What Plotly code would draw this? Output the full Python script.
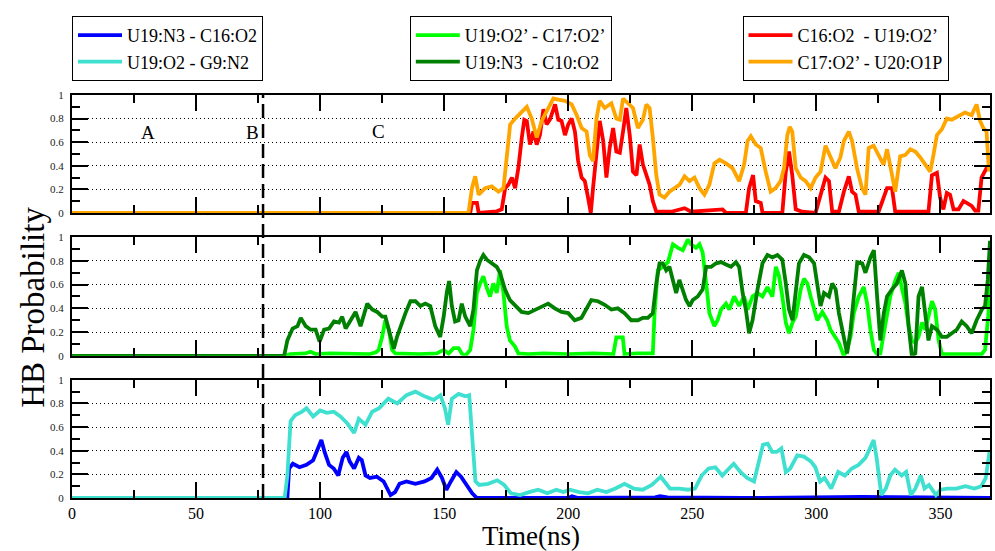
import plotly.graph_objects as go
from plotly.subplots import make_subplots

# ---------------- data ----------------
# top panel
t_orange = [0, 159.8, 161.2, 162.5, 163.9, 166.5, 169.2, 171.9, 173.9, 175.2, 176.6, 178.6, 181.3, 183.3,
            185.3, 187.3, 189.3, 192.0, 194.0, 196.0, 198.7, 201.4, 203.4, 205.4, 207.4, 208.7, 210.0, 211.4,
            212.7, 214.7, 217.4, 219.4, 220.8, 222.1, 224.1, 226.1, 228.1, 230.1, 231.5, 232.8, 234.1, 235.5,
            236.8, 238.8, 240.8, 242.8, 244.9, 246.9, 248.9, 250.9, 252.9, 254.9, 256.9, 258.9, 261.0,
            263.6, 266.2, 268.9, 270.9, 272.3, 273.6, 275.6, 277.6, 279.6, 281.6, 283.6, 285.6, 287.0, 288.3,
            289.3, 290.3, 291.7, 293.7, 295.7, 297.7, 299.7, 301.7, 303.7, 305.7, 307.7, 309.7, 311.1, 313.1,
            314.4, 316.4, 318.4, 319.8, 321.1, 323.1, 325.1, 327.1, 328.5, 329.8, 331.8, 333.8, 335.8, 337.9,
            339.9, 341.9, 343.9, 345.9, 347.2, 348.6, 350.6, 352.6, 354.6, 357.3, 359.9, 362.6, 364.6, 366.0,
            367.3, 368.6, 369.6]
p_orange = [0, 0, 0.21, 0.31, 0.155, 0.21, 0.225, 0.18, 0.21, 0.44, 0.75, 0.8, 0.86, 0.9,
            0.8, 0.64, 0.78, 0.89, 0.97, 0.96, 0.95, 0.92, 0.83, 0.72, 0.69, 0.49, 0.44, 0.8,
            0.95, 0.89, 0.93, 0.8, 0.79, 0.97, 0.93, 0.89, 0.72, 0.79, 0.92, 0.89, 0.64, 0.32,
            0.155, 0.13, 0.18, 0.21, 0.24, 0.31, 0.27, 0.3, 0.21, 0.155, 0.24, 0.42, 0.45,
            0.42, 0.38, 0.27, 0.41, 0.61, 0.65, 0.58, 0.55, 0.35, 0.18, 0.21, 0.27, 0.38, 0.66,
            0.73, 0.69, 0.38, 0.3, 0.27, 0.21, 0.3, 0.35, 0.57, 0.47, 0.38, 0.47, 0.61, 0.69,
            0.61, 0.38, 0.21, 0.155, 0.55, 0.57, 0.49, 0.41, 0.54, 0.38, 0.18, 0.48, 0.49, 0.54,
            0.52, 0.47, 0.41, 0.35, 0.49, 0.66, 0.71, 0.8, 0.79, 0.82, 0.85, 0.83, 0.92, 0.78,
            0.72, 0.69, 0.35]

t_red = [0, 160.5, 161.2, 163.2, 163.9, 171.2, 173.2, 174.6, 175.9, 177.3, 178.6, 179.9, 181.3, 182.3,
         183.3, 184.6, 186.0, 187.3, 188.6, 190.0, 191.3, 192.6, 194.7, 196.0, 197.3, 198.7, 200.0, 201.4,
         202.7, 204.0, 205.4, 206.7, 208.0, 209.1, 210.0, 211.4, 212.7, 214.1, 215.4, 216.7, 218.1, 219.4,
         220.8, 222.1, 223.4, 224.8, 226.1, 227.5, 228.8, 230.1, 231.5, 232.8, 234.1, 235.5, 241.5, 246.9,
         249.5, 254.9, 260.2, 262.2, 263.6, 271.6, 272.9, 274.5, 275.6, 277.6, 278.3, 286.3, 287.7, 289.0,
         290.3, 291.7, 294.3, 299.7, 301.0, 303.7, 305.1, 306.4, 309.1, 311.1, 313.1, 314.4, 315.8, 317.1,
         325.1, 328.5, 330.5, 331.8, 345.2, 346.6, 348.6, 349.9, 351.2, 352.6, 353.9, 355.3, 357.3, 359.3,
         360.6, 362.6, 364.0, 365.3, 366.6, 368.6, 369.6]
p_red = [0, 0, 0.085, 0.085, 0, 0.014, 0.03, 0.21, 0.24, 0.3, 0.21, 0.38, 0.64, 0.79,
         0.78, 0.58, 0.69, 0.58, 0.66, 0.88, 0.75, 0.79, 0.92, 0.79, 0.78, 0.66, 0.75, 0.8,
         0.69, 0.44, 0.3, 0.27, 0.13, 0.0, 0.21, 0.49, 0.78, 0.61, 0.3, 0.55, 0.72, 0.52,
         0.51, 0.69, 0.89, 0.66, 0.35, 0.32, 0.58, 0.41, 0.32, 0.24, 0.1, 0.01, 0.01, 0.04,
         0.01, 0.02, 0.03, 0.03, 0.0, 0.0, 0.21, 0.32, 0.1, 0.085, 0.0, 0.0, 0.35, 0.52,
         0.32, 0.03, 0.01, 0.0, 0.1, 0.3, 0.27, 0.01, 0.01, 0.18, 0.31, 0.18, 0.155, 0.01,
         0.01, 0.21, 0.21, 0.01, 0.01, 0.32, 0.34, 0.13, 0.03, 0.17, 0.155, 0.03, 0.03, 0.1,
         0.085, 0.06, 0.02, 0.02, 0.3, 0.38, 0.38]

# middle panel
t_lime = [0, 86.0, 88.0, 94.0, 96.2, 98.2, 104.0, 110.0, 120.0, 122.5, 123.6, 125.0, 126.3, 127.7, 129.0,
          130.3, 135.0, 140.0, 147.0, 149.8, 151.8, 153.8, 155.8, 157.1, 158.5, 160.5, 161.8, 163.2, 164.5,
          165.8, 167.2, 168.5, 169.8, 171.2, 172.5, 173.9, 175.2, 176.5, 178.5, 179.9, 184.0, 190.0, 200.0,
          210.0, 218.2, 219.4, 222.0, 222.7, 228.0, 232.1, 234.1, 234.8, 236.1, 238.1, 240.2, 242.2, 244.2,
          246.2, 248.2, 249.5, 251.5, 252.9, 254.2, 255.6, 256.9, 258.9, 260.2, 261.6, 263.6, 264.9, 266.9,
          268.9, 270.9, 272.3, 274.3, 276.3, 278.3, 280.3, 282.3, 283.7, 285.0, 286.3, 287.7, 289.0, 290.4,
          291.7, 293.7, 295.0, 296.4, 297.7, 299.1, 300.4, 302.4, 304.4, 305.7, 307.8, 309.1, 311.1, 312.4,
          313.8, 315.1, 317.1, 319.1, 320.5, 321.8, 323.2, 324.5, 325.8, 327.8, 329.8, 331.9, 333.2, 334.5,
          335.9, 337.2, 338.5, 339.9, 341.2, 342.6, 343.9, 345.2, 346.6, 347.9, 349.3, 350.6, 366.7, 368.0,
          369.4, 370.0]
p_lime = [0, 0, 0.015, 0.02, 0.035, 0.015, 0.02, 0.02, 0.015, 0.03, 0.05, 0.16, 0.3, 0.22, 0.05,
          0.02, 0.015, 0.015, 0.02, 0.05, 0.02, 0.065, 0.065, 0.02, 0.0, 0.05, 0.22, 0.53, 0.61,
          0.67, 0.57, 0.5, 0.61, 0.53, 0.72, 0.53, 0.25, 0.13, 0.08, 0.02, 0.015, 0.02, 0.015,
          0.02, 0.015, 0.155, 0.155, 0.015, 0.02, 0.02, 0.02, 0.36, 0.72, 0.75, 0.79, 0.94, 0.91,
          0.89, 0.98, 0.94, 0.91, 0.94, 0.87, 0.61, 0.36, 0.25, 0.3, 0.39, 0.44, 0.39, 0.5,
          0.42, 0.5, 0.39, 0.5, 0.53, 0.5, 0.58, 0.5, 0.75, 0.67, 0.5, 0.28, 0.19, 0.28,
          0.33, 0.56, 0.65, 0.61, 0.5, 0.39, 0.3, 0.37, 0.3, 0.22, 0.16, 0.11, 0.0, 0.05,
          0.16, 0.36, 0.5, 0.58, 0.44, 0.22, 0.05, 0.015, 0.02, 0.25, 0.5, 0.64, 0.7, 0.57,
          0.44, 0.25, 0.13, 0.11, 0.16, 0.28, 0.22, 0.33, 0.46, 0.39, 0.13, 0.015, 0.015, 0.05,
          0.36, 0.78]

t_green = [0, 85.5, 86.8, 88.9, 90.9, 92.2, 94.2, 96.2, 98.2, 99.8, 101.6, 103.6, 105.6, 107.6, 108.9,
           110.3, 112.3, 114.3, 116.3, 117.6, 119.0, 121.0, 123.0, 125.0, 126.3, 127.7, 129.7, 131.0, 132.4,
           134.4, 136.4, 138.4, 140.4, 142.4, 144.4, 146.4, 148.4, 149.8, 151.1, 152.0, 153.1, 154.4, 155.8,
           157.1, 158.5, 160.5, 161.8, 163.2, 164.5, 165.8, 167.2, 169.2, 171.2, 172.5, 174.5, 176.5, 178.5,
           181.2, 183.9, 186.6, 189.3, 191.9, 194.6, 197.3, 200.0, 202.6, 205.3, 207.3, 209.3, 212.0, 214.7,
           217.4, 220.0, 222.7, 225.4, 228.1, 230.1, 232.1, 234.1, 235.5, 236.8, 238.1, 239.5, 240.8, 242.2,
           243.5, 244.8, 246.2, 247.5, 248.9, 250.2, 252.2, 254.2, 255.6, 257.6, 259.6, 261.6, 263.6, 265.6,
           267.6, 268.9, 270.3, 271.6, 272.9, 274.3, 276.3, 278.3, 280.3, 282.3, 284.3, 286.3, 287.7, 289.0,
           290.4, 291.7, 293.0, 295.0, 297.1, 299.1, 300.4, 301.7, 303.1, 305.1, 306.4, 307.8, 309.1, 311.1,
           312.4, 313.8, 315.1, 316.5, 318.5, 319.8, 321.8, 323.2, 324.5, 325.8, 327.2, 328.5, 330.5, 332.5,
           334.5, 335.9, 337.2, 338.5, 339.9, 341.2, 342.6, 343.9, 345.2, 346.6, 348.6, 350.6, 352.6, 354.6,
           356.6, 358.6, 360.6, 362.6, 364.6, 366.7, 368.0, 369.1, 370.0]
p_green = [0, 0, 0.13, 0.23, 0.25, 0.32, 0.25, 0.22, 0.22, 0.12, 0.22, 0.23, 0.29, 0.28, 0.33,
           0.23, 0.3, 0.37, 0.25, 0.33, 0.44, 0.39, 0.37, 0.33, 0.33, 0.22, 0.06, 0.16, 0.25,
           0.36, 0.46, 0.46, 0.42, 0.44, 0.42, 0.25, 0.16, 0.33, 0.54, 0.63, 0.42, 0.29, 0.3,
           0.44, 0.33, 0.25, 0.39, 0.72, 0.8, 0.85, 0.81, 0.78, 0.75, 0.7, 0.56, 0.47, 0.43,
           0.37, 0.36, 0.39, 0.42, 0.44, 0.4, 0.37, 0.36, 0.3, 0.32, 0.39, 0.47, 0.46, 0.43,
           0.39, 0.4, 0.36, 0.3, 0.3, 0.32, 0.32, 0.36, 0.61, 0.78, 0.78, 0.72, 0.75, 0.65,
           0.53, 0.64, 0.56, 0.47, 0.42, 0.47, 0.5, 0.56, 0.75, 0.75, 0.78, 0.79, 0.77, 0.75,
           0.79, 0.75, 0.53, 0.39, 0.19, 0.3, 0.56, 0.78, 0.85, 0.83, 0.85, 0.81, 0.61, 0.39,
           0.3, 0.53, 0.78, 0.85, 0.83, 0.78, 0.61, 0.42, 0.53, 0.5, 0.61, 0.56, 0.36, 0.13,
           0.02, 0.22, 0.5, 0.79, 0.78, 0.7, 0.83, 0.89, 0.5, 0.13, 0.36, 0.5, 0.56, 0.61,
           0.72, 0.61, 0.25, 0.0, 0.02, 0.5, 0.58, 0.33, 0.13, 0.25, 0.22, 0.16, 0.16, 0.19,
           0.22, 0.29, 0.25, 0.19, 0.3, 0.39, 0.42, 0.64, 0.97]

# bottom panel
t_cyan = [0, 85.7, 86.8, 88.1, 89.9, 92.7, 94.5, 97.2, 100.0, 102.7, 105.5, 108.2, 111.0, 113.7, 115.6,
          118.3, 121.0, 123.8, 127.5, 131.1, 134.8, 138.4, 142.1, 145.8, 148.5, 150.3, 151.6, 153.1, 155.8,
          158.6, 160.1, 161.3, 162.6, 164.1, 167.7, 171.4, 174.2, 176.9, 180.6, 184.2, 187.9, 191.6, 195.2,
          198.0, 200.7, 204.4, 208.0, 211.7, 215.4, 219.0, 222.7, 226.4, 230.0, 233.7, 237.3, 241.0, 244.7,
          248.3, 251.1, 253.8, 256.6, 259.3, 262.1, 264.8, 266.7, 269.4, 272.1, 274.9, 276.7, 278.5, 280.4,
          282.2, 284.0, 285.9, 287.7, 289.5, 292.3, 295.0, 297.8, 299.6, 301.5, 303.3, 306.0, 308.8, 311.5,
          314.3, 317.0, 319.8, 321.6, 323.1, 324.3, 326.2, 328.0, 329.8, 331.7, 334.4, 336.2, 338.1, 339.9,
          342.1, 343.6, 345.4, 348.2, 350.0, 352.7, 356.4, 360.1, 363.7, 366.5, 368.3, 369.8]
p_cyan = [0, 0, 0.19, 0.65, 0.7, 0.73, 0.76, 0.69, 0.74, 0.72, 0.73, 0.69, 0.63, 0.55, 0.67,
          0.62, 0.73, 0.76, 0.84, 0.8, 0.87, 0.9, 0.86, 0.83, 0.87, 0.76, 0.62, 0.84, 0.88,
          0.86, 0.87, 0.48, 0.14, 0.11, 0.12, 0.15, 0.11, 0.04, 0.025, 0.05, 0.07, 0.04, 0.07,
          0.05, 0.07, 0.05, 0.04, 0.07, 0.05, 0.08, 0.12, 0.08, 0.07, 0.11, 0.18, 0.08, 0.08,
          0.07, 0.08, 0.19, 0.25, 0.26, 0.19, 0.25, 0.29, 0.22, 0.17, 0.14, 0.31, 0.45, 0.46,
          0.39, 0.39, 0.42, 0.22, 0.25, 0.36, 0.35, 0.31, 0.26, 0.14, 0.17, 0.08, 0.22, 0.19,
          0.25, 0.28, 0.34, 0.42, 0.49, 0.34, 0.025, 0.08, 0.19, 0.24, 0.19, 0.22, 0.025, 0.08,
          0.19, 0.08, 0.11, 0.025, 0.07, 0.08, 0.08, 0.1, 0.08, 0.1, 0.17, 0.39]

t_blue = [0, 86.8, 87.5, 89.0, 91.7, 94.5, 97.2, 99.1, 100.5, 101.8, 103.6, 105.5, 107.3, 109.1, 110.6,
          111.9, 113.7, 115.6, 116.8, 118.3, 120.1, 122.9, 125.6, 128.4, 130.2, 132.0, 134.8, 138.4, 142.1,
          144.9, 147.2, 149.1, 150.9, 152.7, 154.9, 156.8, 159.0, 161.3, 163.2, 200.0, 201.5, 204.0, 235.0,
          237.0, 240.0, 270.0, 318.0, 370.0]
p_blue = [0, 0, 0.25, 0.29, 0.26, 0.28, 0.32, 0.41, 0.49, 0.39, 0.28, 0.25, 0.19, 0.34, 0.39,
          0.31, 0.25, 0.34, 0.32, 0.19, 0.17, 0.18, 0.14, 0.025, 0.05, 0.12, 0.14, 0.12, 0.14,
          0.17, 0.24, 0.17, 0.07, 0.14, 0.22, 0.18, 0.11, 0.04, 0.0, 0.0, 0.015, 0.0, 0.005,
          0.015, 0.005, 0.0, 0.01, 0.0]

phase_boundary = 77.0
phase_labels = ["A", "B", "C"]
phase_label_x = [30.5, 72.7, 123.7]
phase_label_y = [0.68, 0.68, 0.69]

# ---------------- figure ----------------
SERIF = "Liberation Serif, Times New Roman, serif"
fig = make_subplots(rows=3, cols=1, shared_xaxes=True, vertical_spacing=0.05)

def add(t, p, name, color, row, legend, rank):
    fig.add_trace(go.Scatter(x=t, y=p, mode="lines", name=name,
                             line=dict(color=color, width=3.8),
                             legend=legend, legendrank=rank), row=row, col=1)

# drawing order: later traces are drawn on top
add(t_red, p_red, "C16:O2  - U19:O2’", "#ff0000", 1, "legend3", 1)
add(t_orange, p_orange, "C17:O2’ - U20:O1P", "#ffa500", 1, "legend3", 2)
add(t_lime, p_lime, "U19:O2’ - C17:O2’", "#00ff00", 2, "legend2", 1)
add(t_green, p_green, "U19:N3  - C10:O2", "#008000", 2, "legend2", 2)
add(t_blue, p_blue, "U19:N3 - C16:O2", "#0000ff", 3, "legend", 1)
add(t_cyan, p_cyan, "U19:O2 - G9:N2", "#40e0d0", 3, "legend", 2)

ydomains = [[0.7074, 1.0], [0.3528, 0.6472], [0.0, 0.2933]]
for i in range(3):
    fig.update_yaxes(row=i + 1, col=1, domain=ydomains[i], range=[0, 1],
                     tickvals=[0, 0.2, 0.4, 0.6, 0.8, 1], ticktext=["0", "0.2", "0.4", "0.6", "0.8", "1"],
                     ticks="inside", ticklen=16, tickwidth=1.5, tickcolor="black",
                     minor=dict(dtick=0.1, ticks="inside", ticklen=8, tickwidth=1.5, tickcolor="black", showgrid=False),
                     showline=True, linewidth=2, linecolor="black", mirror="allticks",
                     showgrid=True, gridcolor="black", gridwidth=1, griddash="1px,3px",
                     zeroline=False, ticklabelstandoff=4,
                     tickfont=dict(family=SERIF, size=11, color="#222"))
    fig.update_xaxes(row=i + 1, col=1, range=[0, 370], dtick=50, tick0=0,
                     ticks="inside", ticklen=16, tickwidth=1.5, tickcolor="black",
                     minor=dict(dtick=25, ticks="inside", ticklen=8, tickwidth=1.5, tickcolor="black", showgrid=False),
                     showline=True, linewidth=2, linecolor="black", mirror="allticks",
                     showgrid=False, zeroline=False,
                     tickfont=dict(family=SERIF, size=16, color="black"))

fig.update_xaxes(row=3, col=1, title=dict(text="Time(ns)", font=dict(family=SERIF, size=27, color="black"), standoff=2))

# phase boundary
fig.add_shape(type="line", xref="x3", yref="paper", x0=phase_boundary, x1=phase_boundary, y0=0, y1=1,
              line=dict(color="black", width=2.5, dash="14px,6px"), layer="above")
for lab, lx, ly in zip(phase_labels, phase_label_x, phase_label_y):
    fig.add_annotation(x=lx, y=ly, xref="x", yref="y", text=lab, showarrow=False,
                       font=dict(family=SERIF, size=19, color="black"))

fig.add_annotation(text="HB Probability", xref="paper", yref="paper", x=-0.0424, y=0.472,
                   xanchor="center", yanchor="middle",
                   textangle=-90, showarrow=False, font=dict(family=SERIF, size=33, color="black"))

legend_style = dict(bgcolor="white", bordercolor="black", borderwidth=1, xanchor="left", yanchor="top",
                    yref="paper", xref="paper", itemwidth=44, tracegroupgap=0,
                    font=dict(family=SERIF, size=18, color="black"))
fig.update_layout(
    width=995, height=551,
    margin=dict(l=72, r=3, t=95, b=52.7),
    plot_bgcolor="white", paper_bgcolor="white",
    showlegend=True,
    legend=dict(x=0.0, y=1.196, **legend_style),
    legend2=dict(x=0.368, y=1.196, **legend_style),
    legend3=dict(x=0.7304, y=1.196, **legend_style),
)

fig.write_html("out.html")
